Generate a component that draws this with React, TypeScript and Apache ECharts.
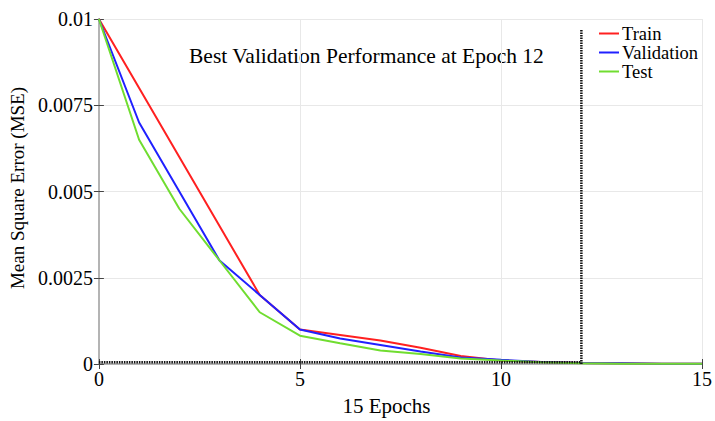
import React, { useEffect, useRef } from "react";
import * as echarts from "echarts";

const epochs = [0, 1, 2, 3, 4, 5, 6, 7, 8, 9, 10, 11, 12, 13, 14, 15];
const trainMSE = [0.01, 0.008, 0.006, 0.004, 0.002, 0.001, 0.00084, 0.00068, 0.00047, 0.00023, 0.0001, 0.00006, 0.00003, 0.00002, 0.00001, 0.00001];
const validationMSE = [0.01, 0.007, 0.005, 0.003, 0.002, 0.001, 0.00074, 0.00055, 0.00036, 0.00019, 0.00012, 0.00006, 0.00003, 0.00002, 0.00001, 0.00001];
const testMSE = [0.01, 0.0065, 0.0045, 0.003, 0.0015, 0.00082, 0.0006, 0.00039, 0.00029, 0.00016, 0.0001, 0.00005, 0.00002, 0.00001, 0.00001, 0.00001];
const bestEpoch = 12;
const bestValue = 0.00005;
const bestLineTop = 0.0097;
const titleText = "Best Validation Performance at Epoch 12";

const FONT = "Liberation Serif";

export default function App() {
  const ref = useRef<HTMLDivElement>(null);
  useEffect(() => {
    if (!ref.current) return;
    const chart = echarts.init(ref.current, null, { renderer: "svg" });
    const pairs = (ys: number[]) => epochs.map((e, i) => [e, ys[i]]);
    const axisLine = { show: true, lineStyle: { color: "#b4b4b4", width: 2 } };
    const tickStyle = { show: true, inside: true, length: 5, lineStyle: { color: "#444", width: 1 } };
    chart.setOption({
      animation: false,
      grid: { left: 98, top: 19, right: 10, bottom: 57, containLabel: false },
      legend: {
        data: ["Train", "Validation", "Test"],
        orient: "vertical",
        left: 599,
        top: 24,
        itemWidth: 20,
        itemHeight: 2,
        itemGap: 0,
        icon: "rect",
        textStyle: { fontFamily: FONT, fontSize: 18.5, color: "#000", padding: [0, 0, 0, -2] },
        padding: 0,
      },
      graphic: [
        {
          type: "text",
          left: 189,
          top: 45,
          style: { text: titleText, fontFamily: FONT, fontSize: 21.5, fill: "#000" },
        },
      ],
      xAxis: [
        {
          type: "value",
          min: 0,
          max: 15,
          interval: 5,
          name: "15 Epochs",
          nameLocation: "middle",
          nameGap: 31,
          nameTextStyle: { fontFamily: FONT, fontSize: 21, color: "#000", padding: [0, 28, 0, 0] },
          axisLine,
          axisTick: tickStyle,
          axisLabel: { fontFamily: FONT, fontSize: 20, color: "#000", margin: 5 },
          splitLine: { show: true, lineStyle: { color: "#e8e8e8", width: 1 } },
        },
        {
          type: "value",
          position: "top",
          min: 0,
          max: 15,
          interval: 5,
          axisLine,
          axisTick: tickStyle,
          axisLabel: { show: false },
          splitLine: { show: false },
        },
      ],
      yAxis: [
        {
          type: "value",
          min: 0,
          max: 0.01,
          interval: 0.0025,
          name: "Mean Square Error (MSE)",
          nameLocation: "middle",
          nameGap: 63,
          nameTextStyle: { fontFamily: FONT, fontSize: 19, color: "#000", padding: [0, 0, 0, 7] },
          axisLine,
          axisTick: tickStyle,
          axisLabel: {
            fontFamily: FONT,
            fontSize: 20,
            color: "#000",
            margin: 6,
            formatter: (v: number) => String(parseFloat(v.toPrecision(4))),
          },
          splitLine: { show: true, lineStyle: { color: "#e8e8e8", width: 1 } },
        },
        {
          type: "value",
          position: "right",
          min: 0,
          max: 0.01,
          interval: 0.0025,
          axisLine,
          axisTick: tickStyle,
          axisLabel: { show: false },
          splitLine: { show: false },
        },
      ],
      series: [
        {
          name: "Train",
          type: "line",
          data: pairs(trainMSE),
          showSymbol: false,
          lineStyle: { color: "#ff2020", width: 2 },
          itemStyle: { color: "#ff2020" },
          z: 3,
        },
        {
          name: "Validation",
          type: "line",
          data: pairs(validationMSE),
          showSymbol: false,
          lineStyle: { color: "#2020ff", width: 2 },
          itemStyle: { color: "#2020ff" },
          z: 4,
        },
        {
          name: "Test",
          type: "line",
          data: pairs(testMSE),
          showSymbol: false,
          lineStyle: { color: "#70dd30", width: 2 },
          itemStyle: { color: "#70dd30" },
          z: 5,
        },
        {
          name: "bestH",
          type: "line",
          data: [
            [0, bestValue],
            [bestEpoch, bestValue],
          ],
          showSymbol: false,
          lineStyle: { color: "#111", width: 2.5, type: [1.5, 1] },
          z: 6,
        },
        {
          name: "bestV",
          type: "line",
          data: [
            [bestEpoch, 0],
            [bestEpoch, bestLineTop],
          ],
          showSymbol: false,
          lineStyle: { color: "#111", width: 2.5, type: [1.5, 1] },
          z: 6,
        },
      ],
    });
    return () => chart.dispose();
  }, []);
  return <div ref={ref} style={{ width: 715, height: 421, position: "absolute", left: 0, top: 0 }} />;
}
